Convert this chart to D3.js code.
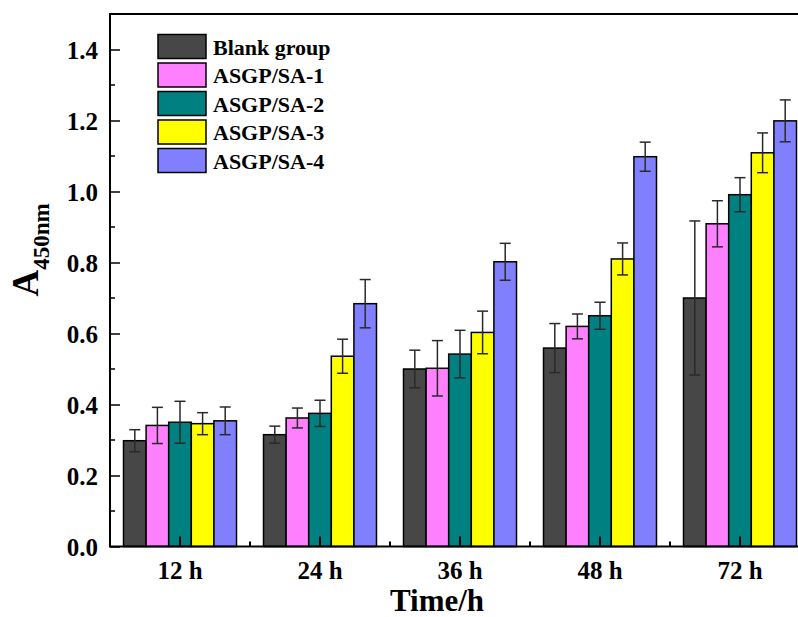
<!DOCTYPE html>
<html lang="en">
<head>
    <meta charset="UTF-8">
    <title>A450nm vs time</title>
    <style>
        body { margin: 0; background: #fff; }
        svg { display: block; font-family: "Liberation Serif", "Times New Roman", serif; font-weight: bold; }
    </style>
</head>
<body>
    <svg id="chart" width="798" height="617"></svg>

    <script src="https://cdn.jsdelivr.net/npm/d3@7/dist/d3.min.js"></script>
    <script>
        // data
        var times = ["12 h", "24 h", "36 h", "48 h", "72 h"];
        var groups = ["Blank group", "ASGP/SA-1", "ASGP/SA-2", "ASGP/SA-3", "ASGP/SA-4"];
        var colors = ["#474747", "#ff80ff", "#008080", "#ffff00", "#8080ff"];

        var blank = [0.298, 0.315, 0.500, 0.559, 0.700];
        var sa1   = [0.341, 0.362, 0.502, 0.620, 0.909];
        var sa2   = [0.350, 0.375, 0.542, 0.650, 0.991];
        var sa3   = [0.346, 0.536, 0.603, 0.810, 1.109];
        var sa4   = [0.354, 0.684, 0.802, 1.098, 1.199];

        var blankErr = [0.031, 0.024, 0.053, 0.069, 0.217];
        var sa1Err   = [0.051, 0.028, 0.078, 0.035, 0.065];
        var sa2Err   = [0.059, 0.037, 0.067, 0.038, 0.048];
        var sa3Err   = [0.031, 0.048, 0.060, 0.045, 0.056];
        var sa4Err   = [0.039, 0.068, 0.052, 0.041, 0.059];

        var yTicks = [0.0, 0.2, 0.4, 0.6, 0.8, 1.0, 1.2, 1.4];

        var values = [blank, sa1, sa2, sa3, sa4];
        var errors = [blankErr, sa1Err, sa2Err, sa3Err, sa4Err];

        var svg = d3.select("#chart");

        // note: "top" is taken by window.top, so use other names
        var plotLeft = 110, plotRight = 810, plotTop = 14, plotBottom = 546.5;

        var x = d3.scaleBand().domain(times).range([plotLeft, plotRight]);
        var x1 = d3.scaleBand().domain(groups).range([13.5, 126.5]);
        var y = d3.scaleLinear().domain([0, 1.5]).range([plotBottom, plotTop]);

        // flatten into records
        var rows = [];
        times.forEach(function (t, i) {
            groups.forEach(function (g, j) {
                rows.push({ time: t, group: g, color: colors[j], v: values[j][i], e: errors[j][i] });
            });
        });

        // bars
        svg.append("g").selectAll("rect")
            .data(rows)
            .enter().append("rect")
            .attr("x", function (d) { return x(d.time) + x1(d.group); })
            .attr("y", function (d) { return y(d.v); })
            .attr("width", x1.bandwidth())
            .attr("height", function (d) { return y(0) - y(d.v); })
            .attr("fill", function (d) { return d.color; })
            .attr("stroke", "#000")
            .attr("stroke-width", 1.5);

        // error bars
        var eb = svg.append("g")
            .attr("stroke", "#2a2a2a")
            .attr("stroke-width", 1.5)
            .selectAll("g")
            .data(rows)
            .enter().append("g")
            .attr("transform", function (d) {
                return "translate(" + (x(d.time) + x1(d.group) + x1.bandwidth() / 2) + ",0)";
            });
        eb.append("line")
            .attr("y1", function (d) { return y(d.v + d.e); })
            .attr("y2", function (d) { return y(d.v - d.e); });
        eb.append("line")
            .attr("x1", -5.5).attr("x2", 5.5)
            .attr("y1", function (d) { return y(d.v + d.e); })
            .attr("y2", function (d) { return y(d.v + d.e); });
        eb.append("line")
            .attr("x1", -5.5).attr("x2", 5.5)
            .attr("y1", function (d) { return y(d.v - d.e); })
            .attr("y2", function (d) { return y(d.v - d.e); });

        // left axis, ticks pointing inward
        var yAxis = svg.append("g")
            .attr("transform", "translate(" + plotLeft + ",0)")
            .call(d3.axisRight(y).tickValues(yTicks).tickSize(10).tickFormat(d3.format(".1f")));
        yAxis.select(".domain").remove();
        yAxis.selectAll(".tick line").attr("stroke", "#000").attr("stroke-width", 1.5);
        yAxis.selectAll(".tick text")
            .attr("x", -12)
            .attr("text-anchor", "end")
            .attr("dy", "0.34em")
            .style("font-size", "25px")
            .style("font-weight", "bold")
            .style("font-family", "'Liberation Serif', serif")
            .attr("fill", "#000");

        svg.append("g").selectAll("line")
            .data(d3.range(0.1, 1.5, 0.2))
            .enter().append("line")
            .attr("x1", plotLeft).attr("x2", plotLeft + 5)
            .attr("y1", function (d) { return y(d); })
            .attr("y2", function (d) { return y(d); })
            .attr("stroke", "#000").attr("stroke-width", 1.5);

        // bottom axis
        var xAxis = svg.append("g")
            .attr("transform", "translate(0," + plotBottom + ")")
            .call(d3.axisTop(x).tickSize(10));
        xAxis.select(".domain").remove();
        xAxis.selectAll(".tick line").attr("stroke", "#000").attr("stroke-width", 2);
        xAxis.selectAll(".tick text")
            .attr("y", 32)
            .attr("dy", 0)
            .style("font-size", "25px")
            .style("font-weight", "bold")
            .style("font-family", "'Liberation Serif', serif")
            .attr("fill", "#000");

        // minor x ticks at group boundaries
        svg.append("g").selectAll("line")
            .data(times)
            .enter().append("line")
            .attr("x1", function (d) { return x(d); })
            .attr("x2", function (d) { return x(d); })
            .attr("y1", plotBottom).attr("y2", plotBottom - 5)
            .attr("stroke", "#000").attr("stroke-width", 2);

        // frame
        svg.append("rect")
            .attr("x", plotLeft).attr("y", plotTop)
            .attr("width", plotRight - plotLeft).attr("height", plotBottom - plotTop)
            .attr("fill", "none")
            .attr("stroke", "#000")
            .attr("stroke-width", 2);

        // axis titles
        svg.append("text")
            .attr("x", 437).attr("y", 611)
            .attr("text-anchor", "middle")
            .style("font-size", "31px")
            .text("Time/h");

        var yl = svg.append("text")
            .attr("transform", "translate(38,250) rotate(-90)")
            .attr("text-anchor", "middle");
        yl.append("tspan").style("font-size", "37px").text("A");
        yl.append("tspan").style("font-size", "23px").attr("dy", 11).text("450nm");

        // legend
        var lg = svg.append("g").selectAll("g")
            .data(groups)
            .enter().append("g")
            .attr("transform", function (d, i) { return "translate(158," + (34.5 + i * 28.5) + ")"; });
        lg.append("rect")
            .attr("width", 48).attr("height", 24)
            .attr("fill", function (d, i) { return colors[i]; })
            .attr("stroke", "#000")
            .attr("stroke-width", 1.5);
        lg.append("text")
            .attr("x", 55).attr("y", 20)
            .style("font-size", "22px")
            .text(function (d) { return d; });
    </script>
</body>
</html>
